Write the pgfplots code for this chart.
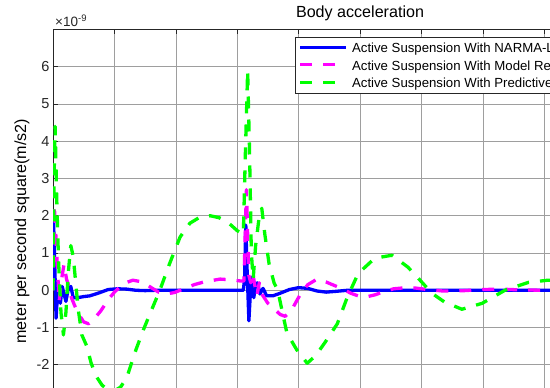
\documentclass[border=0pt]{standalone}
\usepackage{fontspec}
\setmainfont{Liberation Sans}
\usepackage{pgfplots}
\pgfplotsset{compat=1.18}
\definecolor{mblue}{rgb}{0,0,1}
\definecolor{mmag}{rgb}{1,0,1}
\definecolor{mgreen}{rgb}{0,1,0}
\begin{document}
\begin{tikzpicture}
\begin{axis}[
  scale only axis, width=614pt, height=409.75pt,
  xmin=0, xmax=10, ymin=-4, ymax=7,
  xtick={0,...,10}, xticklabels={},
  ytick={-4,...,6}, yticklabels={,,-2,-1,0,1,2,3,4,5,6},
  clip mode=individual,
  grid=major, major grid style={black!38, line width=0.6pt},
  tick align=inside, major tick length=5pt, tick style={black!85, line width=0.6pt},
  axis line style={black!85, line width=0.7pt},
  /pgf/number format/assume math mode=true,
  ticklabel style={font=\fontsize{14.5}{17}\selectfont, text=black!85},
  title={Body acceleration},
  title style={font=\fontsize{16.1}{19}\selectfont, at={(axis description cs:0.5,1)}, anchor=base, yshift=5.5pt, inner sep=0pt},
  ylabel={meter per second square(m/s2)},
  ylabel style={font=\fontsize{16.1}{19}\selectfont, at={(axis description cs:-0.0505,0.5076)}, anchor=center, inner sep=0pt},
  legend cell align=left,
  legend image code/.code={\draw[#1] (0pt,0pt) -- (45.5pt,0pt);},
  legend style={at={(axis description cs:0.3941,0.9828)}, anchor=north west,
    draw=black!85, line width=0.6pt, fill=white, inner xsep=3.5pt, inner ysep=3pt,
    font=\fontsize{13.2}{15}\selectfont, row sep=2.5pt, column sep=4.5pt,
    nodes={inner sep=0pt, text height=13pt, text depth=2pt}},
  every axis plot/.append style={line width=3.3pt, line join=round},
]
\addplot[mblue] coordinates {
(0,0) (0.01,1.8) (0.03,0.6) (0.05,-0.75) (0.07,-0.2) (0.09,0.15) (0.12,-0.35) (0.15,0.1)
(0.18,-0.1) (0.21,-0.3) (0.25,0.05) (0.29,0.1) (0.33,-0.2) (0.4,-0.2) (0.5,-0.17) (0.6,-0.15)
(0.75,-0.07) (0.9,0.02) (1.05,0.04) (1.2,0.03) (1.35,0) (1.5,-0.01) (1.7,0) (2.0,0) (2.5,0)
(3.1,0) (3.12,0.3) (3.14,1.75) (3.16,0.6) (3.19,-0.82) (3.22,0.1) (3.24,0.35) (3.27,-0.2)
(3.3,0.15) (3.33,0.2) (3.37,-0.1) (3.42,0.05) (3.48,-0.15) (3.58,-0.15) (3.7,-0.08) (3.85,0.02)
(4.0,0.07) (4.15,0.05) (4.3,-0.02) (4.45,-0.05) (4.6,-0.03) (4.8,0) (10,0)
};
\addlegendentry{Active Suspension With NARMA-L2 Controller}
\addplot[mmag, dash pattern=on 12pt off 11pt] coordinates {
(0,0) (0.02,2.3) (0.04,1.7) (0.06,1.0) (0.1,-0.3) (0.14,0.3) (0.18,0.7) (0.22,0.3) (0.26,0.1)
(0.3,-0.2) (0.4,-0.6) (0.5,-0.85) (0.58,-0.9) (0.68,-0.75) (0.78,-0.55) (0.9,-0.25) (1.0,-0.05)
(1.15,0.18) (1.3,0.27) (1.47,0.22) (1.6,0.07) (1.72,-0.05) (1.85,-0.1) (1.98,-0.06) (2.1,0.02)
(2.3,0.15) (2.45,0.22) (2.72,0.3) (2.9,0.28) (3.05,0.25) (3.11,0.25) (3.13,1.5) (3.15,2.7)
(3.17,1.5) (3.19,0.4) (3.22,0.2) (3.25,0.5) (3.29,0.1) (3.32,-0.15) (3.36,0.2) (3.4,-0.1)
(3.5,-0.35) (3.6,-0.5) (3.7,-0.65) (3.78,-0.7) (3.88,-0.55) (3.98,-0.25) (4.05,-0.05) (4.15,0.15)
(4.3,0.3) (4.45,0.22) (4.55,0.15) (4.7,0.05) (4.85,-0.08) (5.0,-0.17) (5.1,-0.18) (5.25,-0.12)
(5.4,-0.03) (5.55,0.04) (5.75,0.07) (5.9,0.06) (6.1,0.02) (6.35,-0.02) (6.7,-0.01) (7.0,0.02)
(7.3,0.03) (7.6,0.01) (8.0,0) (8.5,0) (10,0)
};
\addlegendentry{Active Suspension With Model Reference Controller}
\addplot[mgreen, dash pattern=on 12pt off 11pt] coordinates {
(0,0) (0.02,3.2) (0.035,4.4) (0.06,2.5) (0.09,0.8) (0.13,-0.6) (0.17,-1.2) (0.21,-0.6)
(0.25,0.5) (0.29,1.2) (0.33,0.9) (0.37,0.2) (0.41,-0.5) (0.47,-1.2) (0.55,-1.5) (0.62,-1.95)
(0.7,-2.3) (0.8,-2.55) (0.9,-2.68) (1.0,-2.7) (1.1,-2.6) (1.2,-2.35) (1.35,-1.6) (1.47,-1.07)
(1.6,-0.55) (1.74,0) (1.9,0.72) (2.07,1.43) (2.23,1.8) (2.4,1.97) (2.56,2.0) (2.7,1.95)
(2.83,1.85) (3.0,1.6) (3.1,1.5) (3.13,3.5) (3.17,5.9) (3.2,3.8) (3.23,1.0) (3.26,0.3)
(3.3,1.2) (3.36,2.0) (3.4,2.2) (3.45,1.5) (3.52,0.7) (3.6,0.2) (3.66,0) (3.75,-0.7)
(3.81,-1.15) (3.97,-1.6) (4.14,-1.96) (4.28,-1.75) (4.43,-1.4) (4.63,-0.9) (4.79,-0.2)
(4.97,0.45) (5.24,0.86) (5.52,0.94) (5.78,0.62) (5.95,0.32) (6.17,-0.08) (6.38,-0.32)
(6.66,-0.51) (6.99,-0.35) (7.36,0) (7.74,0.21) (8.06,0.27) (8.4,0.25) (8.8,0.1) (9.3,-0.08)
(9.7,-0.1) (10,-0.05)
};
\addlegendentry{Active Suspension With Predictive Controller}
\node[anchor=base west, inner sep=0pt, font=\fontsize{13.5}{16}\selectfont, text=black!85]
  at (axis description cs:0.0033,1.0061) {×10\textsuperscript{-9}};
\coordinate (bbsw) at (axis cs:-0.8632,-2.604);
\coordinate (bbne) at (axis cs:8.094,7.792);
\end{axis}
\pgfresetboundingbox
\useasboundingbox (bbsw) rectangle (bbne);
\end{tikzpicture}
\end{document}
